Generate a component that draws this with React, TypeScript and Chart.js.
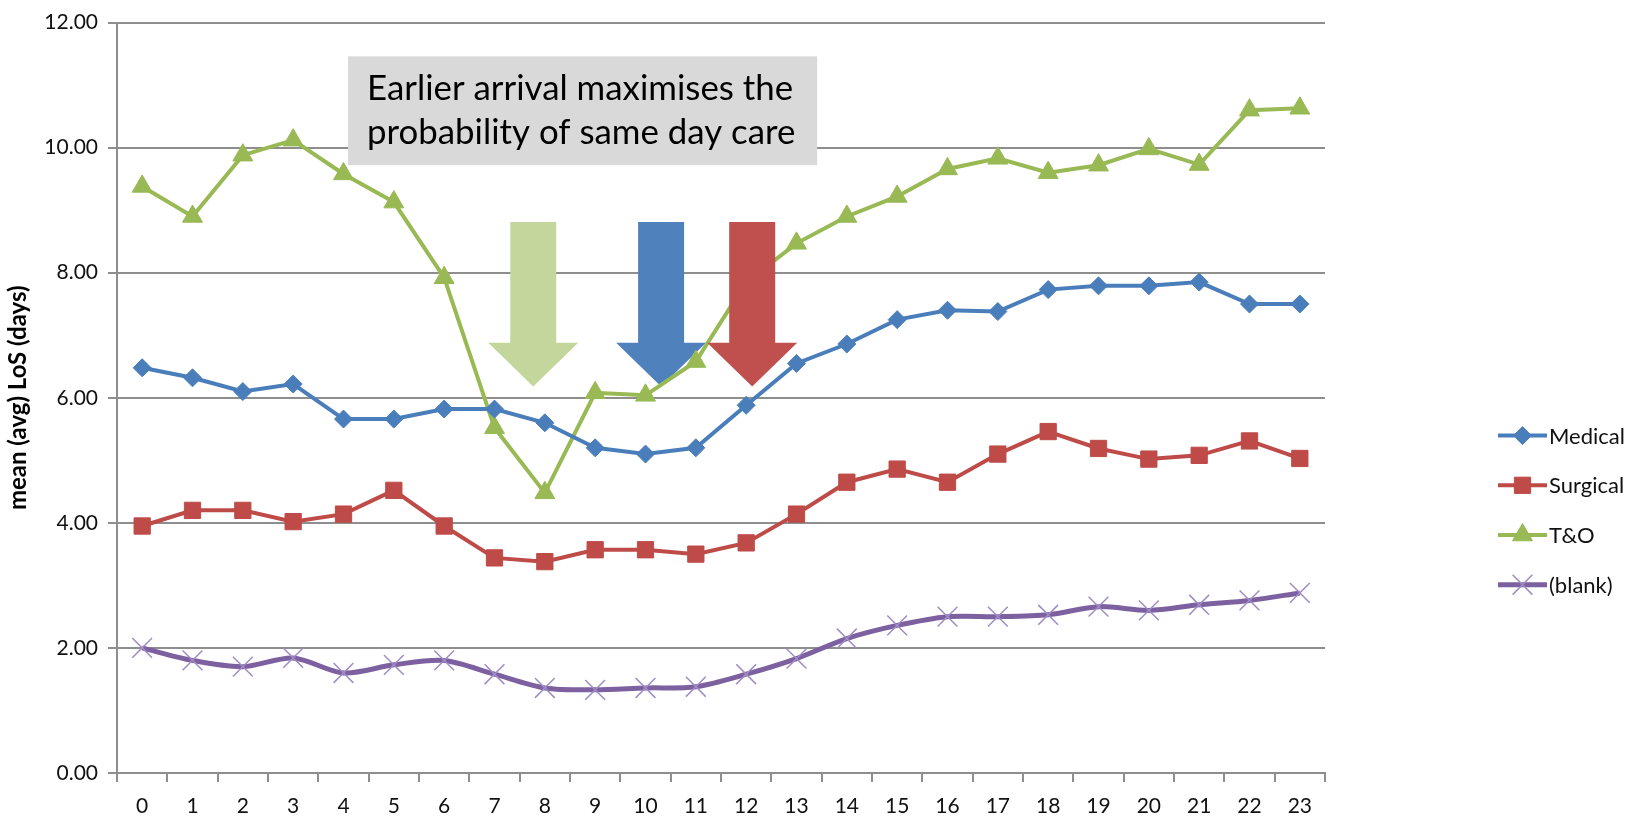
import React, { useEffect, useRef } from 'react';
import { Chart, registerables } from 'chart.js';

Chart.register(...registerables);

// ---------- data ----------
const hours = ['0','1','2','3','4','5','6','7','8','9','10','11','12','13','14','15','16','17','18','19','20','21','22','23'];
const medical = [6.48, 6.32, 6.10, 6.22, 5.66, 5.66, 5.82, 5.82, 5.60, 5.20, 5.10, 5.20, 5.88, 6.55, 6.86, 7.25, 7.40, 7.38, 7.73, 7.79, 7.79, 7.85, 7.50, 7.50];
const surgical = [3.95, 4.20, 4.20, 4.02, 4.14, 4.52, 3.95, 3.44, 3.38, 3.57, 3.57, 3.50, 3.68, 4.14, 4.65, 4.86, 4.65, 5.10, 5.46, 5.19, 5.02, 5.08, 5.31, 5.03];
const tAndO = [9.38, 8.90, 9.88, 10.12, 9.58, 9.13, 7.92, 5.52, 4.48, 6.08, 6.04, 6.58, 7.85, 8.47, 8.90, 9.22, 9.66, 9.83, 9.60, 9.72, 9.98, 9.73, 10.60, 10.63];
const blank = [2.00, 1.80, 1.70, 1.84, 1.60, 1.73, 1.80, 1.58, 1.36, 1.33, 1.36, 1.38, 1.58, 1.83, 2.15, 2.36, 2.50, 2.50, 2.53, 2.66, 2.60, 2.69, 2.76, 2.88];
const seriesNames = ['Medical', 'Surgical', 'T&O', '(blank)'];
const yAxisTitle = 'mean (avg) LoS (days)';
const noteLines = ['Earlier arrival maximises the', 'probability of same day care'];
// note box extent in data units (hour index / days)
const noteHours = [4.09, 13.41];
const noteDays = [11.46, 9.72];
// arrows: hour position, top, head start, tip (days)
const arrowHours = [7.77, 10.31, 12.12];
const arrowColors = ['#C3D69B', '#4F81BD', '#C0504D'];
const arrowInFront = [false, false, true];
const arrowDays = [8.81, 6.88, 6.18];

const FONT = 'Lato, "Open Sans", "Liberation Sans", sans-serif';
const GRID = '#8E8E8E';

function drawMarker(ctx: CanvasRenderingContext2D, style: string, x: number, y: number, r: number, fill: string, stroke: string, lw: number) {
  ctx.save();
  ctx.fillStyle = fill;
  ctx.strokeStyle = stroke;
  ctx.lineWidth = lw;
  ctx.beginPath();
  if (style === 'rectRot') {
    ctx.moveTo(x, y - r); ctx.lineTo(x + r, y); ctx.lineTo(x, y + r); ctx.lineTo(x - r, y); ctx.closePath();
    ctx.fill(); ctx.stroke();
  } else if (style === 'rect') {
    const s = Math.SQRT1_2 * r;
    ctx.rect(x - s, y - s, 2 * s, 2 * s);
    ctx.fill(); ctx.stroke();
  } else if (style === 'triangle') {
    let a = 0;
    ctx.moveTo(x + Math.sin(a) * r, y - Math.cos(a) * r);
    a += (2 * Math.PI) / 3;
    ctx.lineTo(x + Math.sin(a) * r, y - Math.cos(a) * r);
    a += (2 * Math.PI) / 3;
    ctx.lineTo(x + Math.sin(a) * r, y - Math.cos(a) * r);
    ctx.closePath();
    ctx.fill(); ctx.stroke();
  } else if (style === 'crossRot') {
    const o = Math.SQRT1_2 * r;
    ctx.moveTo(x - o, y - o); ctx.lineTo(x + o, y + o);
    ctx.moveTo(x - o, y + o); ctx.lineTo(x + o, y - o);
    ctx.stroke();
  }
  ctx.restore();
}

function drawArrows(chart: any, front: boolean) {
  const { ctx, scales } = chart;
  const xs = scales.x, ys = scales.y;
  const shaftHalf = 23, headHalf = 45;
  arrowHours.forEach((h, i) => {
    if (arrowInFront[i] !== front) return;
    const cx = xs.getPixelForValue(h);
    const top = ys.getPixelForValue(arrowDays[0]);
    const head = ys.getPixelForValue(arrowDays[1]);
    const tip = ys.getPixelForValue(arrowDays[2]);
    ctx.save();
    ctx.fillStyle = arrowColors[i];
    ctx.beginPath();
    ctx.moveTo(cx - shaftHalf, top);
    ctx.lineTo(cx + shaftHalf, top);
    ctx.lineTo(cx + shaftHalf, head);
    ctx.lineTo(cx + headHalf, head);
    ctx.lineTo(cx, tip);
    ctx.lineTo(cx - headHalf, head);
    ctx.lineTo(cx - shaftHalf, head);
    ctx.closePath();
    ctx.fill();
    ctx.restore();
  });
}

const arrowPlugin = {
  id: 'arrows',
  beforeDatasetsDraw(chart: any) { drawArrows(chart, false); },
  afterDatasetsDraw(chart: any) { drawArrows(chart, true); },
};

const notePlugin = {
  id: 'note',
  afterDraw(chart: any) {
    const { ctx, scales } = chart;
    const x1 = scales.x.getPixelForValue(noteHours[0]);
    const x2 = scales.x.getPixelForValue(noteHours[1]);
    const y1 = scales.y.getPixelForValue(noteDays[0]);
    const y2 = scales.y.getPixelForValue(noteDays[1]);
    ctx.save();
    ctx.fillStyle = '#D9D9D9';
    ctx.fillRect(x1, y1, x2 - x1, y2 - y1);
    ctx.font = `35px ${FONT}`;
    ctx.fillStyle = '#000';
    ctx.textBaseline = 'middle';
    ctx.textAlign = 'left';
    const padL = 19;
    const target = (x2 - x1) - 43;
    const w = ctx.measureText(noteLines[0]).width;
    const sx = Math.min(1.15, target / w);
    const cy = (y1 + y2) / 2;
    const gap = 44;
    noteLines.forEach((line, i) => {
      ctx.save();
      ctx.translate(x1 + padL, cy + (i - 0.5) * gap);
      ctx.scale(sx, 1);
      ctx.fillText(line, 0, 0);
      ctx.restore();
    });
    ctx.restore();
  },
};

const legendPlugin = {
  id: 'sideLegend',
  afterDraw(chart: any) {
    const { ctx, chartArea } = chart;
    const x0 = chartArea.right + 173;
    const y0 = chartArea.top + 413;
    const step = 49.7;
    chart.data.datasets.forEach((ds: any, i: number) => {
      const y = y0 + i * step;
      ctx.save();
      ctx.strokeStyle = ds.borderColor;
      ctx.lineWidth = ds.borderWidth;
      ctx.beginPath();
      ctx.moveTo(x0, y);
      ctx.lineTo(x0 + 49, y);
      ctx.stroke();
      drawMarker(ctx, ds.pointStyle, x0 + 24.5, y, ds.pointRadius, ds.pointBackgroundColor, ds.pointBorderColor, ds.pointBorderWidth);
      ctx.fillStyle = '#111';
      ctx.font = `22px ${FONT}`;
      ctx.textBaseline = 'middle';
      ctx.textAlign = 'left';
      ctx.fillText(ds.label, x0 + 51, y + 1);
      ctx.restore();
    });
  },
};

export default function App() {
  const ref = useRef<HTMLCanvasElement | null>(null);

  useEffect(() => {
    if (!ref.current) return;
    const chart = new Chart(ref.current, {
      type: 'line',
      data: {
        labels: hours,
        datasets: [
          {
            label: seriesNames[0], data: medical,
            borderColor: '#4A7EBB', borderWidth: 4, tension: 0,
            pointStyle: 'rectRot', pointRadius: 9,
            pointBackgroundColor: '#4A7EBB', pointBorderColor: '#4A7EBB', pointBorderWidth: 1,
          },
          {
            label: seriesNames[1], data: surgical,
            borderColor: '#BE4B48', borderWidth: 4, tension: 0,
            pointStyle: 'rect', pointRadius: 11.5,
            pointBackgroundColor: '#BE4B48', pointBorderColor: '#BE4B48', pointBorderWidth: 1,
          },
          {
            label: seriesNames[2], data: tAndO,
            borderColor: '#98B954', borderWidth: 4, tension: 0,
            pointStyle: 'triangle', pointRadius: 11.5,
            pointBackgroundColor: '#98B954', pointBorderColor: '#98B954', pointBorderWidth: 1,
          },
          {
            label: seriesNames[3], data: blank,
            borderColor: '#7D60A0', borderWidth: 5, tension: 0.3,
            pointStyle: 'crossRot', pointRadius: 14,
            pointBackgroundColor: '#A08CC6', pointBorderColor: '#A08CC6', pointBorderWidth: 1.5,
          },
        ],
      },
      options: {
        responsive: false,
        animation: false,
        events: [],
        layout: { padding: { left: 0, top: 20, right: 318, bottom: 0 } },
        plugins: {
          legend: { display: false },
          tooltip: { enabled: false },
        },
        scales: {
          x: {
            type: 'category',
            offset: true,
            afterFit(scale: any) { scale.height = 49; },
            grid: {
              display: true, drawOnChartArea: false, drawTicks: true, tickLength: 9,
              offset: true, color: GRID, lineWidth: 2,
            },
            border: { display: true, color: GRID, width: 2 },
            ticks: {
              color: '#111', padding: 12, maxRotation: 0, autoSkip: false,
              font: { family: FONT, size: 21 },
            },
          },
          y: {
            min: 0, max: 12,
            afterFit(scale: any) { scale.width = 117; },
            grid: { color: GRID, lineWidth: 2, drawTicks: true, tickLength: 9 },
            border: { display: true, color: GRID, width: 2 },
            ticks: {
              stepSize: 2, color: '#111', padding: 10,
              font: { family: FONT, size: 21 },
              callback: (v: any) => Number(v).toFixed(2),
            },
            title: {
              display: true, text: yAxisTitle, color: '#000',
              font: { family: FONT, size: 24, weight: 'bold' },
              padding: { top: 4, bottom: 0 },
            },
          },
        },
      },
      plugins: [arrowPlugin, notePlugin, legendPlugin],
    });
    return () => chart.destroy();
  }, []);

  return (
    <div style={{ position: 'fixed', left: 0, top: 0, width: 1643, height: 822, background: '#fff' }}>
      <canvas ref={ref} width={1643} height={822} style={{ display: 'block', width: 1643, height: 822 }} />
    </div>
  );
}
